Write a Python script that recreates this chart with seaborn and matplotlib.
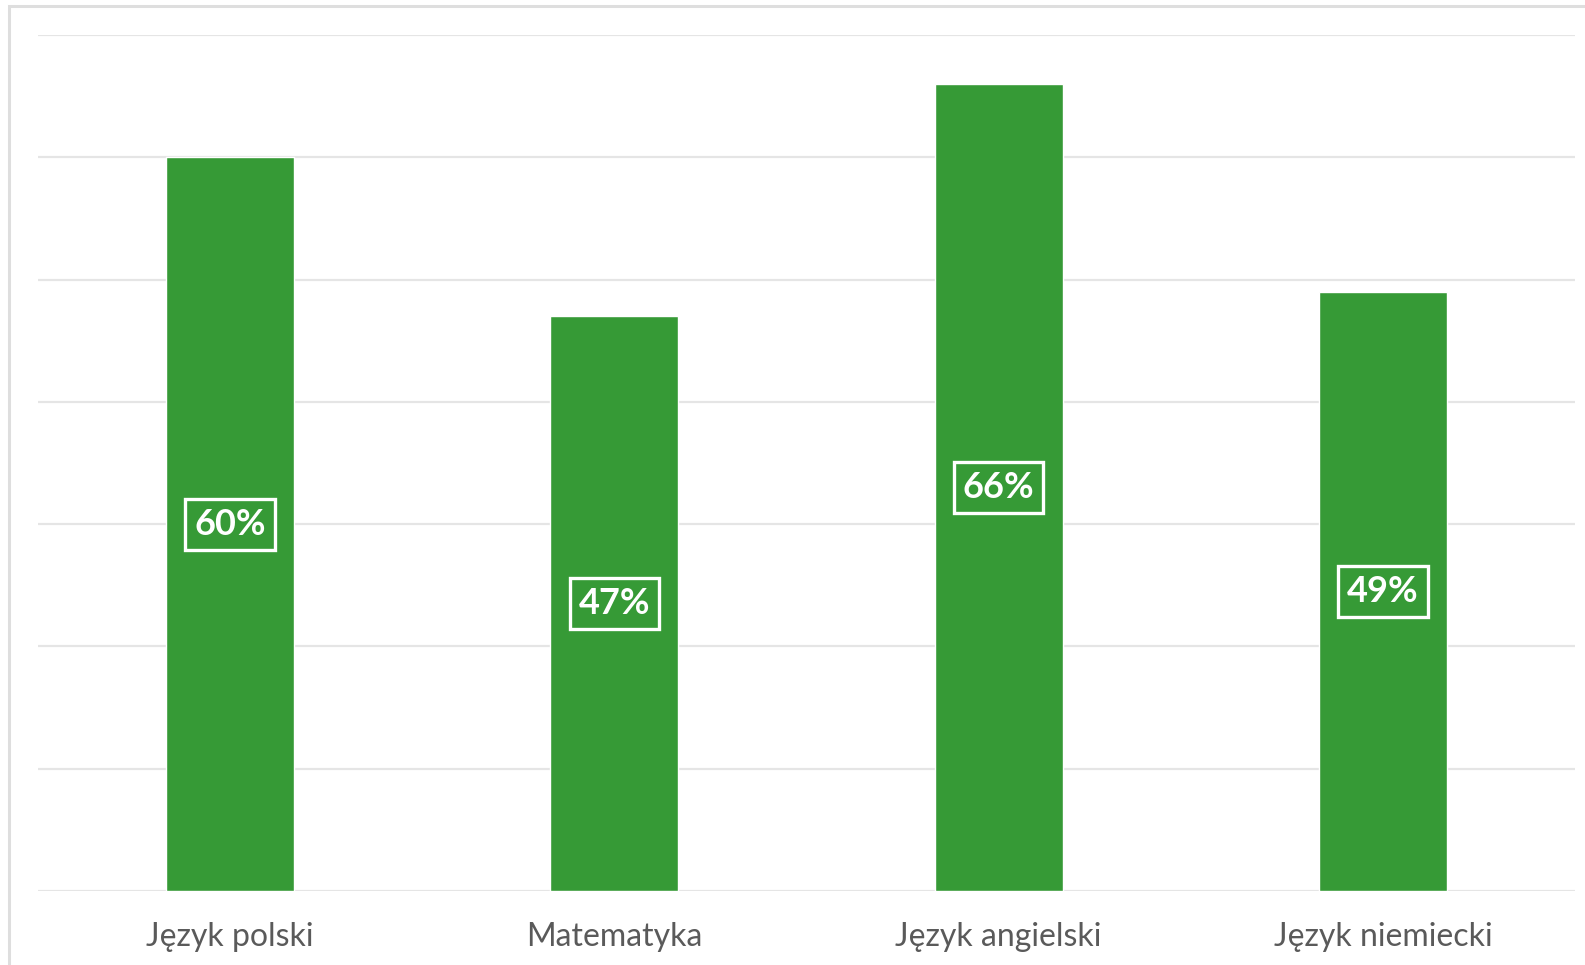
import matplotlib
matplotlib.use("Agg")
import matplotlib.pyplot as plt
import seaborn as sns
import pandas as pd
from matplotlib.patches import Rectangle

categories = ["Język polski", "Matematyka", "Język angielski", "Język niemiecki"]
values = [60, 47, 66, 49]
labels = ["60%", "47%", "66%", "49%"]

sns.set_theme(style="white")
plt.rcParams['font.family'] = ['Lato', 'DejaVu Sans']

W, H = 1585, 965
fig = plt.figure(figsize=(W / 100, H / 100), dpi=100)
fig.patch.set_facecolor("white")

# outer frame
fig.add_artist(Rectangle((9 / W, -0.1), 1.2, (H - 6) / H + 0.1, transform=fig.transFigure,
                         fill=False, edgecolor="#dedede", linewidth=2.2))

ax = fig.add_axes([38 / W, 74 / H, (1575 - 38) / W, (891 - 35) / H])
df = pd.DataFrame({"cat": categories, "val": values})
sns.barplot(data=df, x="cat", y="val", color="#369a36", saturation=1, width=0.333, ax=ax)

ax.set_ylim(0, 70)
ax.set_yticks(range(0, 71, 10))
ax.yaxis.grid(True, color="#e5e5e5", linewidth=1.6)
ax.set_axisbelow(True)
for s in ax.spines.values():
    s.set_visible(False)
ax.set_yticklabels([])
ax.tick_params(axis="y", length=0)
ax.tick_params(axis="x", length=0, pad=22, labelsize=23, labelcolor="#5a5a5a")
ax.set_xlabel("")
ax.set_ylabel("")

for i, (v, lab) in enumerate(zip(values, labels)):
    ax.text(i, v / 2, lab, ha="center", va="center", fontsize=26, color="white",
            fontweight="bold",
            bbox=dict(boxstyle="square,pad=0.25", facecolor="none", edgecolor="white", linewidth=2.4))

fig.savefig("out.png", dpi=100)
